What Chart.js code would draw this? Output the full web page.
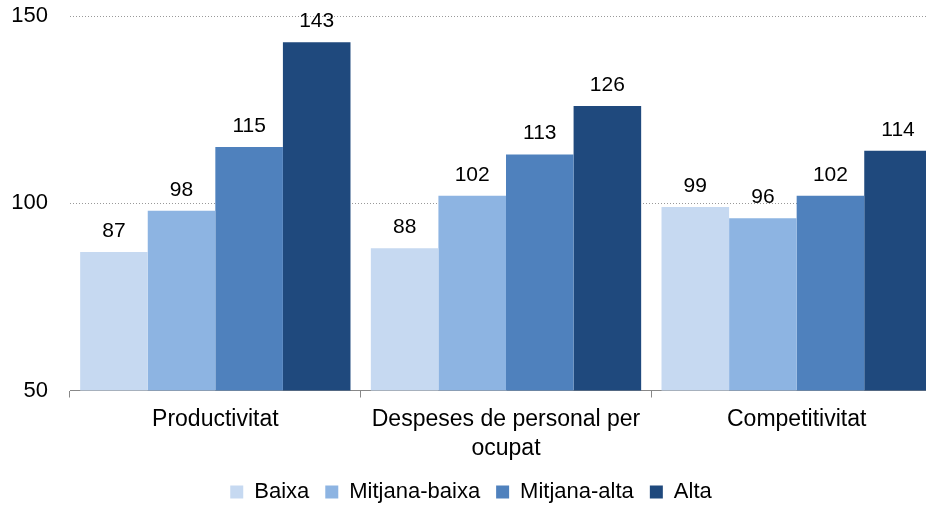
<!DOCTYPE html>
<html>
<head>
<meta charset="utf-8">
<script src="https://cdn.jsdelivr.net/npm/chart.js@4"></script>
<style>
  html, body { margin: 0; padding: 0; background: #fff; overflow: hidden; }
  #wrap { position: absolute; left: 0; top: 0; width: 942px; height: 513px; }
</style>
</head>
<body>
<div id="wrap"><canvas id="chart"></canvas></div>
<script>
// categories and series (index values)
const categories = ['Productivitat', ['Despeses de personal per', 'ocupat'], 'Competitivitat'];
const seriesNames = ['Baixa', 'Mitjana-baixa', 'Mitjana-alta', 'Alta'];
const baixa = [87, 88, 99];
const mitjanaBaixa = [98, 102, 96];
const mitjanaAlta = [115, 113, 102];
const alta = [143, 126, 114];
const yTicks = [50, 100, 150];

const colors = ['#C6D9F1', '#8DB4E2', '#4F81BD', '#1F497D'];
const FONT = 'Liberation Sans, Arial, sans-serif';

// draws the value above each bar
const valueLabels = {
    id: 'valueLabels',
    afterDatasetsDraw(chart) {
        const ctx = chart.ctx;
        ctx.save();
        ctx.font = '21px ' + FONT;
        ctx.fillStyle = '#000';
        ctx.textAlign = 'center';
        ctx.textBaseline = 'middle';
        chart.data.datasets.forEach((ds, i) => {
            chart.getDatasetMeta(i).data.forEach((bar, j) => {
                ctx.fillText(ds.data[j], bar.x, bar.y - 21);
            });
        });
        ctx.restore();
    }
};

const allSeries = [baixa, mitjanaBaixa, mitjanaAlta, alta];

new Chart(document.getElementById('chart'), {
    type: 'bar',
    data: {
        labels: categories,
        datasets: allSeries.map((vals, i) => ({
            label: seriesNames[i],
            data: vals,
            backgroundColor: colors[i],
            borderWidth: 0
        }))
    },
    options: {
        responsive: true,
        maintainAspectRatio: false,
        animation: false,
        datasets: { bar: { categoryPercentage: 0.93, barPercentage: 1 } },
        layout: { padding: { top: 16, left: 0, right: 0, bottom: 0 } },
        scales: {
            x: {
                grid: { offset: true, drawOnChartArea: false, tickLength: 7, color: '#888' },
                border: { color: '#888', width: 1 },
                ticks: { color: '#000', font: { size: 23, family: FONT, lineHeight: 1.25 }, padding: 8, maxRotation: 0 },
                afterFit(scale) { scale.height = 74.5; }
            },
            y: {
                min: 50,
                max: 150,
                afterBuildTicks(scale) { scale.ticks = yTicks.map(v => ({ value: v })); },
                // invisible tick marks push the labels left without adding top padding
                grid: { color: '#999', drawTicks: true, tickLength: 22, tickColor: 'rgba(0,0,0,0)', lineWidth: 1 },
                border: { display: false, dash: [1, 2] },
                ticks: { color: '#000', font: { size: 22, family: FONT }, padding: 0 },
                afterFit(scale) { scale.width = 70; }
            }
        },
        plugins: {
            legend: {
                position: 'bottom',
                labels: {
                    boxWidth: 13,
                    boxHeight: 13,
                    padding: 16,
                    color: '#000',
                    font: { size: 22, family: FONT }
                }
            },
            tooltip: { enabled: false }
        }
    },
    plugins: [valueLabels]
});
</script>
</body>
</html>
